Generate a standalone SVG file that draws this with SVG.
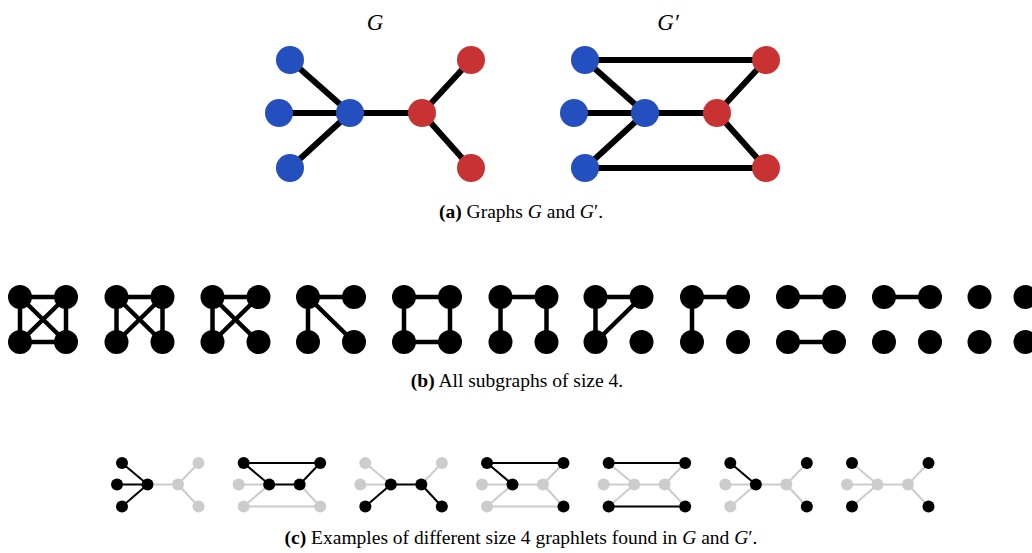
<svg xmlns="http://www.w3.org/2000/svg" width="1032" height="553" viewBox="0 0 1032 553">
<style>
  .bg { fill: #ffffff; }
  .blue { fill: #2350be; }
  .red { fill: #c83232; }
  .ea { stroke: #000; stroke-width: 6; stroke-linecap: butt; fill: none; }
  .eb { stroke: #000; stroke-width: 4.5; fill: none; }
  .nb { fill: #000; }
  .ec { stroke: #000; stroke-width: 2; fill: none; }
  .eg { stroke: #cccccc; stroke-width: 2; fill: none; }
  .nk { fill: #000; }
  .ng { fill: #cccccc; }
  .cap { font-family: "Liberation Serif", "Times New Roman", serif; font-size: 19.5px; fill: #000; text-anchor: middle; }
  .ttl { font-family: "Liberation Serif", "Times New Roman", serif; font-size: 23px; font-style: italic; fill: #000; }
  .b { font-weight: bold; }
  .i { font-style: italic; }
</style>
<rect class="bg" x="0" y="0" width="1032" height="553"/>

<!-- (a) -->
<text class="ttl" x="375" y="30" text-anchor="middle">G</text>
<text class="ttl" x="668" y="30" text-anchor="middle">G′</text>

<g id="connectors-a">
  <line class="ea" x1="290" y1="60" x2="350" y2="113"/>
  <line class="ea" x1="279" y1="113" x2="350" y2="113"/>
  <line class="ea" x1="290" y1="168" x2="350" y2="113"/>
  <line class="ea" x1="350" y1="113" x2="422" y2="113"/>
  <line class="ea" x1="422" y1="113" x2="471" y2="60"/>
  <line class="ea" x1="422" y1="113" x2="471" y2="168"/>

  <line class="ea" x1="585" y1="60" x2="766" y2="60"/>
  <line class="ea" x1="585" y1="168" x2="766" y2="168"/>
  <line class="ea" x1="585" y1="60" x2="645" y2="113"/>
  <line class="ea" x1="574" y1="113" x2="645" y2="113"/>
  <line class="ea" x1="585" y1="168" x2="645" y2="113"/>
  <line class="ea" x1="645" y1="113" x2="717" y2="113"/>
  <line class="ea" x1="717" y1="113" x2="766" y2="60"/>
  <line class="ea" x1="717" y1="113" x2="766" y2="168"/>
</g>

<g id="G-tl"><circle class="blue" cx="290" cy="60" r="14"/></g>
<g id="G-ml"><circle class="blue" cx="279" cy="113" r="14"/></g>
<g id="G-bl"><circle class="blue" cx="290" cy="168" r="14"/></g>
<g id="G-cb"><circle class="blue" cx="350" cy="113" r="14"/></g>
<g id="G-cr"><circle class="red" cx="422" cy="113" r="14"/></g>
<g id="G-rt"><circle class="red" cx="471" cy="60" r="14"/></g>
<g id="G-rb"><circle class="red" cx="471" cy="168" r="14"/></g>

<g id="Gp-tl"><circle class="blue" cx="585" cy="60" r="14"/></g>
<g id="Gp-ml"><circle class="blue" cx="574" cy="113" r="14"/></g>
<g id="Gp-bl"><circle class="blue" cx="585" cy="168" r="14"/></g>
<g id="Gp-cb"><circle class="blue" cx="645" cy="113" r="14"/></g>
<g id="Gp-cr"><circle class="red" cx="717" cy="113" r="14"/></g>
<g id="Gp-rt"><circle class="red" cx="766" cy="60" r="14"/></g>
<g id="Gp-rb"><circle class="red" cx="766" cy="168" r="14"/></g>

<text class="cap" x="521" y="218"><tspan class="b">(a)</tspan> Graphs <tspan class="i">G</tspan> and <tspan class="i">G</tspan>′.</text>

<!-- (b) -->
<defs>
  <g id="q4">
    <circle class="nb" cx="0" cy="297" r="12"/>
    <circle class="nb" cx="46" cy="297" r="12"/>
    <circle class="nb" cx="0" cy="342" r="12"/>
    <circle class="nb" cx="46" cy="342" r="12"/>
  </g>
</defs>

<g id="sub1" transform="translate(20,0)">
  <g class="edges">
    <line class="eb" x1="0" y1="297" x2="46" y2="297"/>
    <line class="eb" x1="0" y1="342" x2="46" y2="342"/>
    <line class="eb" x1="0" y1="297" x2="0" y2="342"/>
    <line class="eb" x1="46" y1="297" x2="46" y2="342"/>
    <line class="eb" x1="0" y1="297" x2="46" y2="342"/>
    <line class="eb" x1="46" y1="297" x2="0" y2="342"/>
  </g>
  <use href="#q4"/>
</g>
<g id="sub2" transform="translate(116.5,0)">
  <g class="edges">
    <line class="eb" x1="0" y1="297" x2="46" y2="297"/>
    <line class="eb" x1="0" y1="297" x2="0" y2="342"/>
    <line class="eb" x1="46" y1="297" x2="46" y2="342"/>
    <line class="eb" x1="0" y1="297" x2="46" y2="342"/>
    <line class="eb" x1="46" y1="297" x2="0" y2="342"/>
  </g>
  <use href="#q4"/>
</g>
<g id="sub3" transform="translate(212.5,0)">
  <g class="edges">
    <line class="eb" x1="0" y1="297" x2="46" y2="297"/>
    <line class="eb" x1="0" y1="297" x2="0" y2="342"/>
    <line class="eb" x1="0" y1="297" x2="46" y2="342"/>
    <line class="eb" x1="46" y1="297" x2="0" y2="342"/>
  </g>
  <use href="#q4"/>
</g>
<g id="sub4" transform="translate(308,0)">
  <g class="edges">
    <line class="eb" x1="0" y1="297" x2="46" y2="297"/>
    <line class="eb" x1="0" y1="297" x2="0" y2="342"/>
    <line class="eb" x1="0" y1="297" x2="46" y2="342"/>
  </g>
  <use href="#q4"/>
</g>
<g id="sub5" transform="translate(404,0)">
  <g class="edges">
    <line class="eb" x1="0" y1="297" x2="46" y2="297"/>
    <line class="eb" x1="0" y1="342" x2="46" y2="342"/>
    <line class="eb" x1="0" y1="297" x2="0" y2="342"/>
    <line class="eb" x1="46" y1="297" x2="46" y2="342"/>
  </g>
  <use href="#q4"/>
</g>
<g id="sub6" transform="translate(500.5,0)">
  <g class="edges">
    <line class="eb" x1="0" y1="297" x2="46" y2="297"/>
    <line class="eb" x1="0" y1="297" x2="0" y2="342"/>
    <line class="eb" x1="46" y1="297" x2="46" y2="342"/>
  </g>
  <use href="#q4"/>
</g>
<g id="sub7" transform="translate(595.5,0)">
  <g class="edges">
    <line class="eb" x1="0" y1="297" x2="46" y2="297"/>
    <line class="eb" x1="0" y1="297" x2="0" y2="342"/>
    <line class="eb" x1="46" y1="297" x2="0" y2="342"/>
  </g>
  <use href="#q4"/>
</g>
<g id="sub8" transform="translate(692,0)">
  <g class="edges">
    <line class="eb" x1="0" y1="297" x2="46" y2="297"/>
    <line class="eb" x1="0" y1="297" x2="0" y2="342"/>
  </g>
  <use href="#q4"/>
</g>
<g id="sub9" transform="translate(788,0)">
  <g class="edges">
    <line class="eb" x1="0" y1="297" x2="46" y2="297"/>
    <line class="eb" x1="0" y1="342" x2="46" y2="342"/>
  </g>
  <use href="#q4"/>
</g>
<g id="sub10" transform="translate(884,0)">
  <g class="edges">
    <line class="eb" x1="0" y1="297" x2="46" y2="297"/>
  </g>
  <use href="#q4"/>
</g>
<g id="sub11" transform="translate(979.5,0)">
  <use href="#q4"/>
</g>

<text class="cap" x="517" y="386.5"><tspan class="b">(b)</tspan> All subgraphs of size 4.</text>

<!-- (c) -->
<g id="ex1" transform="translate(122,0)">
  <g class="edges">
    <line class="eg" x1="25.5" y1="484.5" x2="56" y2="484.5"/>
    <line class="eg" x1="56" y1="484.5" x2="76.5" y2="463"/>
    <line class="eg" x1="56" y1="484.5" x2="76.5" y2="506.5"/>
    <line class="ec" x1="0" y1="463" x2="25.5" y2="484.5"/>
    <line class="ec" x1="-5" y1="484.5" x2="25.5" y2="484.5"/>
    <line class="ec" x1="0" y1="506.5" x2="25.5" y2="484.5"/>
  </g>
  <circle class="ng" cx="56" cy="484.5" r="6"/>
  <circle class="ng" cx="76.5" cy="463" r="6"/>
  <circle class="ng" cx="76.5" cy="506.5" r="6"/>
  <circle class="nk" cx="0" cy="463" r="6"/>
  <circle class="nk" cx="-5" cy="484.5" r="6"/>
  <circle class="nk" cx="0" cy="506.5" r="6"/>
  <circle class="nk" cx="25.5" cy="484.5" r="6"/>
</g>
<g id="ex2" transform="translate(243.67,0)">
  <g class="edges">
    <line class="eg" x1="-5" y1="484.5" x2="25.5" y2="484.5"/>
    <line class="eg" x1="0" y1="506.5" x2="25.5" y2="484.5"/>
    <line class="eg" x1="0" y1="506.5" x2="76.5" y2="506.5"/>
    <line class="eg" x1="56" y1="484.5" x2="76.5" y2="506.5"/>
    <line class="ec" x1="0" y1="463" x2="76.5" y2="463"/>
    <line class="ec" x1="0" y1="463" x2="25.5" y2="484.5"/>
    <line class="ec" x1="25.5" y1="484.5" x2="56" y2="484.5"/>
    <line class="ec" x1="56" y1="484.5" x2="76.5" y2="463"/>
  </g>
  <circle class="ng" cx="-5" cy="484.5" r="6"/>
  <circle class="ng" cx="0" cy="506.5" r="6"/>
  <circle class="ng" cx="76.5" cy="506.5" r="6"/>
  <circle class="nk" cx="0" cy="463" r="6"/>
  <circle class="nk" cx="25.5" cy="484.5" r="6"/>
  <circle class="nk" cx="56" cy="484.5" r="6"/>
  <circle class="nk" cx="76.5" cy="463" r="6"/>
</g>
<g id="ex3" transform="translate(365.33,0)">
  <g class="edges">
    <line class="eg" x1="0" y1="463" x2="25.5" y2="484.5"/>
    <line class="eg" x1="-5" y1="484.5" x2="25.5" y2="484.5"/>
    <line class="eg" x1="56" y1="484.5" x2="76.5" y2="463"/>
    <line class="ec" x1="0" y1="506.5" x2="25.5" y2="484.5"/>
    <line class="ec" x1="25.5" y1="484.5" x2="56" y2="484.5"/>
    <line class="ec" x1="56" y1="484.5" x2="76.5" y2="506.5"/>
  </g>
  <circle class="ng" cx="0" cy="463" r="6"/>
  <circle class="ng" cx="-5" cy="484.5" r="6"/>
  <circle class="ng" cx="76.5" cy="463" r="6"/>
  <circle class="nk" cx="0" cy="506.5" r="6"/>
  <circle class="nk" cx="25.5" cy="484.5" r="6"/>
  <circle class="nk" cx="56" cy="484.5" r="6"/>
  <circle class="nk" cx="76.5" cy="506.5" r="6"/>
</g>
<g id="ex4" transform="translate(487,0)">
  <g class="edges">
    <line class="eg" x1="-5" y1="484.5" x2="25.5" y2="484.5"/>
    <line class="eg" x1="0" y1="506.5" x2="25.5" y2="484.5"/>
    <line class="eg" x1="25.5" y1="484.5" x2="56" y2="484.5"/>
    <line class="eg" x1="56" y1="484.5" x2="76.5" y2="463"/>
    <line class="eg" x1="56" y1="484.5" x2="76.5" y2="506.5"/>
    <line class="eg" x1="0" y1="506.5" x2="76.5" y2="506.5"/>
    <line class="ec" x1="0" y1="463" x2="76.5" y2="463"/>
    <line class="ec" x1="0" y1="463" x2="25.5" y2="484.5"/>
  </g>
  <circle class="ng" cx="-5" cy="484.5" r="6"/>
  <circle class="ng" cx="0" cy="506.5" r="6"/>
  <circle class="ng" cx="56" cy="484.5" r="6"/>
  <circle class="nk" cx="0" cy="463" r="6"/>
  <circle class="nk" cx="25.5" cy="484.5" r="6"/>
  <circle class="nk" cx="76.5" cy="463" r="6"/>
  <circle class="nk" cx="76.5" cy="506.5" r="6"/>
</g>
<g id="ex5" transform="translate(608.67,0)">
  <g class="edges">
    <line class="eg" x1="0" y1="463" x2="25.5" y2="484.5"/>
    <line class="eg" x1="-5" y1="484.5" x2="25.5" y2="484.5"/>
    <line class="eg" x1="0" y1="506.5" x2="25.5" y2="484.5"/>
    <line class="eg" x1="25.5" y1="484.5" x2="56" y2="484.5"/>
    <line class="eg" x1="56" y1="484.5" x2="76.5" y2="463"/>
    <line class="eg" x1="56" y1="484.5" x2="76.5" y2="506.5"/>
    <line class="ec" x1="0" y1="463" x2="76.5" y2="463"/>
    <line class="ec" x1="0" y1="506.5" x2="76.5" y2="506.5"/>
  </g>
  <circle class="ng" cx="-5" cy="484.5" r="6"/>
  <circle class="ng" cx="25.5" cy="484.5" r="6"/>
  <circle class="ng" cx="56" cy="484.5" r="6"/>
  <circle class="nk" cx="0" cy="463" r="6"/>
  <circle class="nk" cx="0" cy="506.5" r="6"/>
  <circle class="nk" cx="76.5" cy="463" r="6"/>
  <circle class="nk" cx="76.5" cy="506.5" r="6"/>
</g>
<g id="ex6" transform="translate(730.33,0)">
  <g class="edges">
    <line class="eg" x1="-5" y1="484.5" x2="25.5" y2="484.5"/>
    <line class="eg" x1="0" y1="506.5" x2="25.5" y2="484.5"/>
    <line class="eg" x1="25.5" y1="484.5" x2="56" y2="484.5"/>
    <line class="eg" x1="56" y1="484.5" x2="76.5" y2="463"/>
    <line class="eg" x1="56" y1="484.5" x2="76.5" y2="506.5"/>
    <line class="ec" x1="0" y1="463" x2="25.5" y2="484.5"/>
  </g>
  <circle class="ng" cx="-5" cy="484.5" r="6"/>
  <circle class="ng" cx="0" cy="506.5" r="6"/>
  <circle class="ng" cx="56" cy="484.5" r="6"/>
  <circle class="nk" cx="0" cy="463" r="6"/>
  <circle class="nk" cx="25.5" cy="484.5" r="6"/>
  <circle class="nk" cx="76.5" cy="463" r="6"/>
  <circle class="nk" cx="76.5" cy="506.5" r="6"/>
</g>
<g id="ex7" transform="translate(852,0)">
  <g class="edges">
    <line class="eg" x1="0" y1="463" x2="25.5" y2="484.5"/>
    <line class="eg" x1="-5" y1="484.5" x2="25.5" y2="484.5"/>
    <line class="eg" x1="0" y1="506.5" x2="25.5" y2="484.5"/>
    <line class="eg" x1="25.5" y1="484.5" x2="56" y2="484.5"/>
    <line class="eg" x1="56" y1="484.5" x2="76.5" y2="463"/>
    <line class="eg" x1="56" y1="484.5" x2="76.5" y2="506.5"/>
  </g>
  <circle class="ng" cx="-5" cy="484.5" r="6"/>
  <circle class="ng" cx="25.5" cy="484.5" r="6"/>
  <circle class="ng" cx="56" cy="484.5" r="6"/>
  <circle class="nk" cx="0" cy="463" r="6"/>
  <circle class="nk" cx="0" cy="506.5" r="6"/>
  <circle class="nk" cx="76.5" cy="463" r="6"/>
  <circle class="nk" cx="76.5" cy="506.5" r="6"/>
</g>

<text class="cap" x="521" y="543.5"><tspan class="b">(c)</tspan> Examples of different size 4 graphlets found in <tspan class="i">G</tspan> and <tspan class="i">G</tspan>′.</text>
</svg>
